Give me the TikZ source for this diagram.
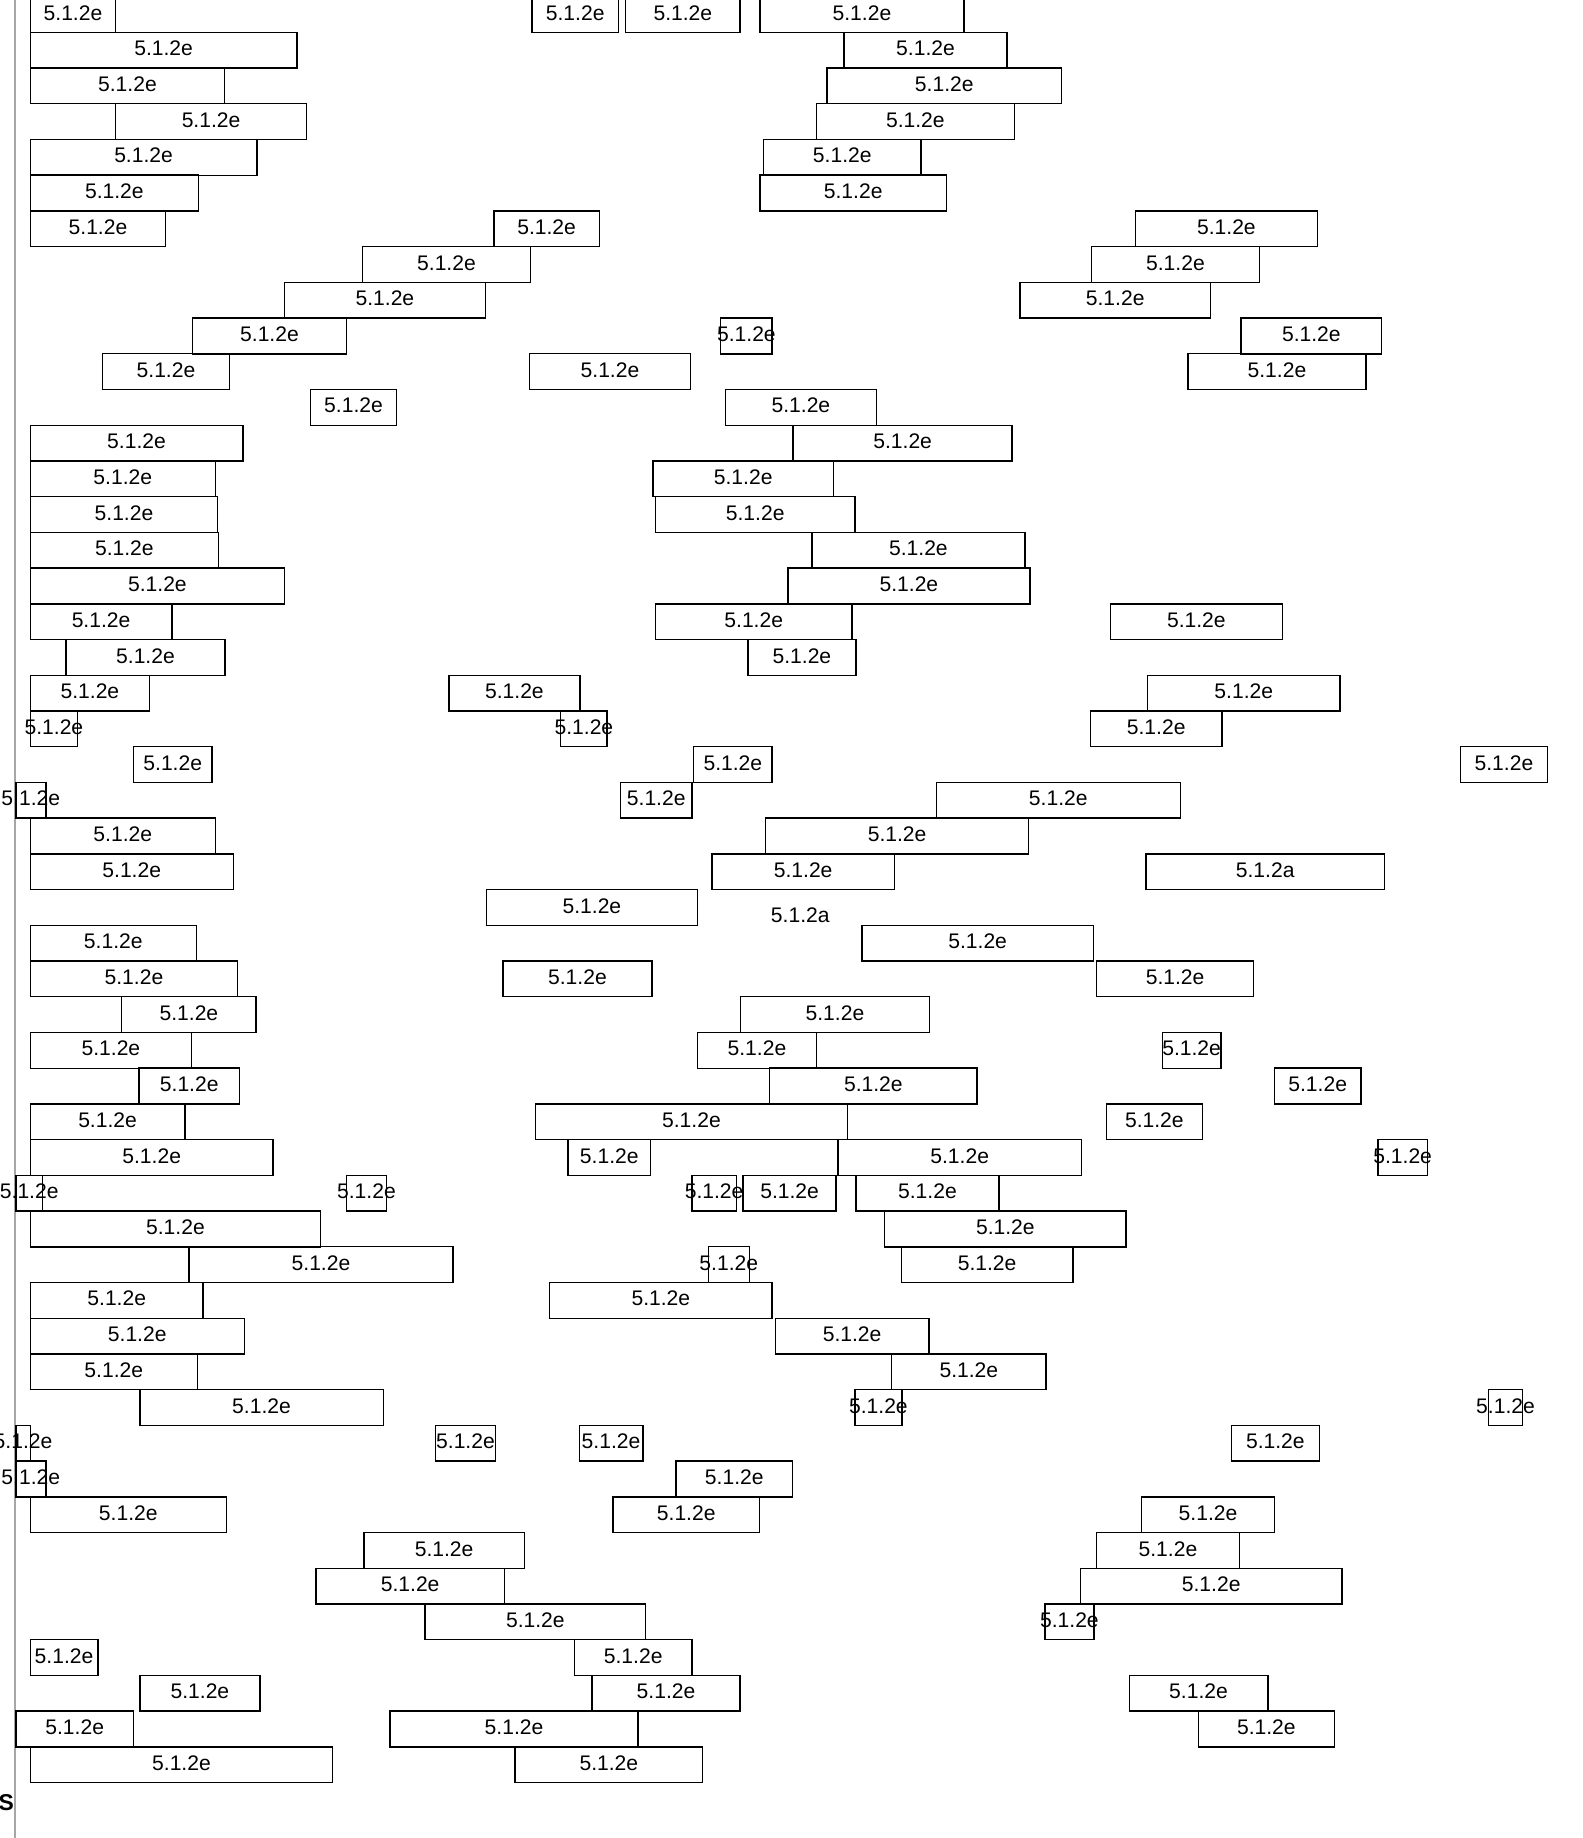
\documentclass[tikz,border=0pt]{standalone}
\usepackage{fontspec}
\setmainfont{Liberation Sans}
\newcommand{\rowH}{35.72}
\newcommand{\rowY}{14.44}
\newcommand{\lbl}[1]{\makebox[0pt]{#1}}
\tikzset{
  blk/.style={draw=black,line width=0.4pt,inner sep=0pt,outer sep=0pt,
    minimum height=0.3572cm,text depth=1pt,font=\fontsize{6}{7}\selectfont},
  tag/.style={inner sep=0pt,font=\fontsize{6}{7}\selectfont},
}

\begin{document}
\begin{tikzpicture}[x=0.01cm,y=-0.01cm]
\path[use as bounding box] (0,0) rectangle (1583,1838);

%% ---------------- left rule ----------------
\coordinate (ruletop) at (15.2,0);
\coordinate (rulebot) at (15.2,1838);
\draw[gray!70,line width=0.4pt] (ruletop) -- (rulebot);

%% ---------------- boxes: row/left/right ----------------
\foreach \r/\a/\b [count=\k] in {
  0/30.3/115.7, 0/531.8/618.6, 0/625.7/740, 0/760/963.9,
  1/30.3/296.9, 1/843.9/1007.1,
  2/30.3/224.6, 2/827.1/1061.4,
  3/115.7/306.5, 3/816.4/1014.3,
  4/30.3/256.9, 4/763.6/921,
  5/30.3/198.4, 5/760/946.4,
  6/30.3/165.7, 6/493.9/599.3, 6/1135.3/1317.5,
  7/362.3/530.7, 7/1091.5/1259.4,
  8/284.5/485.3, 8/1020/1210.4,
  9/192.5/346.5, 9/720.7/772.1, 9/1241/1381.7,
  10/102.3/229.7, 10/529.3/690.7, 10/1188/1365.8,
  11/310.7/396.4, 11/725.4/876.4,
  12/30.3/242.8, 12/793.2/1012.1,
  13/30.3/215.3, 13/653.2/833.2,
  14/30.3/217.7, 14/655.4/855,
  15/30.3/218.4, 15/811.8/1025,
  16/30.3/284.5, 16/787.8/1030,
  17/30.3/171.9, 17/655.4/852.1, 17/1110.2/1282.5,
  18/66.1/224.9, 18/747.8/856,
  19/30.3/149.5, 19/448.8/580, 19/1147.6/1340,
  20/30.3/77.5, 20/560.7/607.1, 20/1090.4/1222,
  21/133.3/212.2, 21/693.6/772.1, 21/1460.6/1547.3,
  22/15.8/45.8, 22/620.7/691.8, 22/936.4/1180.2,
  23/30.3/215.3, 23/765.7/1028.5,
  24/30.3/233.2, 24/712.1/894.2,
  25/486.3/697.5,
  26/30.3/196.3, 26/861.8/1093.5,
  27/30.3/237.6, 27/502.8/652.1, 27/1096.6/1253.6,
  28/121.6/256.2, 28/740.7/929.2,
  29/30.3/191.5, 29/697.5/816.4, 29/1162.2/1221,
  30/138.8/239.7, 30/769.6/977.1, 30/1274.3/1361,
  31/30.3/184.9, 31/535.4/847.5, 31/1106.4/1202.3,
  32/30.3/273.1, 32/567.9/650.7, 32/837.8/1081.6, 32/1378/1427.3,
  33/15.8/42.7, 33/346.5/386.4, 33/691.8/736.4, 33/743.2/836, 33/856/998.9,
  34/30.3/320.6, 34/884.6/1126.1,
  35/189.1/452.9, 35/708.2/749.3, 35/901.4/1072.8,
  36/30.3/203.2, 36/549.6/772.1,
  37/30.3/244.2, 37/775.3/928.9,
  38/30.3/197.3, 38/891.7/1046,
  39/139.8/383.3, 39/855/901.8, 39/1488.5/1522.5,
  40/15.8/30.3, 40/435.7/495.3, 40/579.3/642.8, 40/1231.2/1319.5,
  41/15.8/45.8, 41/676/792.5,
  42/30.3/226.3, 42/613.2/759.3, 42/1141.4/1274.7,
  43/364/524.2, 43/1096.6/1239.3,
  44/315.8/504.5, 44/1080.3/1342,
  45/425/645.7, 45/1045/1093.8,
  46/30.3/97.8, 46/574.6/691.8,
  47/139.8/260, 47/592.1/740, 47/1129.2/1267.9,
  48/15.8/133.6, 48/390.2/637.9, 48/1198.5/1334.2,
  49/30.3/332.7, 49/515.2/702.5}{
  \pgfmathsetmacro{\bw}{(\b-\a)*0.01}
  \pgfmathsetmacro{\cx}{(\a+\b)/2}
  \pgfmathsetmacro{\yy}{\rowY+\rowH*\r}
  \node[blk,minimum width=\bw cm] (blk\k) at (\cx,\yy) {\lbl{5.1.2e}};
}

%% ---------------- the two 5.1.2a entries ----------------
\node[blk,minimum width=2.386cm] (blka) at (1265.2,{\rowY+\rowH*24}) {\lbl{5.1.2a}};
\node[tag] (taga) at (800.3,915) {5.1.2a};

%% ---------------- marker at the foot ----------------
\node[tag,font=\fontsize{6.5}{7}\selectfont\bfseries] (mark) at (6.2,1803) {S};

\end{tikzpicture}
\end{document}
